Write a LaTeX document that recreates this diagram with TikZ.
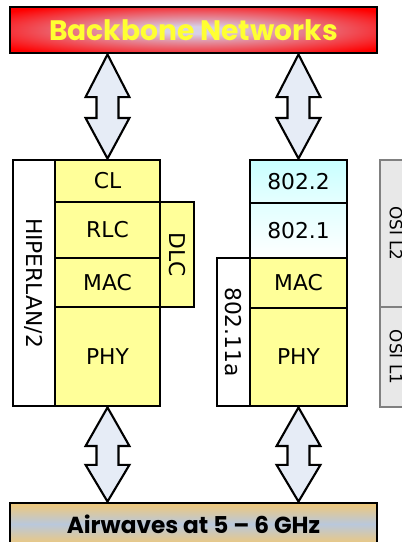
\documentclass[tikz,border=0pt]{standalone}
\usepackage{fontspec}
\usepackage{graphicx}
\setmainfont{DejaVu Sans}
\newfontfamily\barfont{Poppins}
\usetikzlibrary{calc}

\definecolor{layeryellow}{RGB}{255,255,153}
\definecolor{arrowblue}{RGB}{230,236,246}
\definecolor{osigray}{RGB}{232,232,232}
\definecolor{titleyellow}{RGB}{255,255,50}
\definecolor{glowlilac}{RGB}{214,208,232}
\pgfdeclareradialshading{redglow}{\pgfpoint{0bp}{0bp}}{%
  color(0bp)=(glowlilac); color(4bp)=(glowlilac); color(32bp)=(red); color(50bp)=(red)}

% vertical double arrow with notched shaft, from #1 down to #2
\newcommand{\duplex}[2]{%
  \draw[duplex] let \p1=(#1), \p2=(#2), \n1={\y1-\y2} in
    (\x2,\y1) -- (\x2+15.6pt,\y1-0.41*\n1) -- (\x2+7.8pt,\y1-0.41*\n1)
    -- (\x2+7.8pt,\y1-0.61*\n1) -- (\x2+15.6pt,\y1-0.61*\n1) -- (\x2,\y2)
    -- (\x2-15.6pt,\y1-0.61*\n1) -- (\x2-7.8pt,\y1-0.61*\n1)
    -- (\x2-7.8pt,\y1-0.41*\n1) -- (\x2-15.6pt,\y1-0.41*\n1) -- cycle;}

\begin{document}
\begin{tikzpicture}[x=0.025cm, y=-0.025cm,
  layer/.style={draw, line width=2pt, inner sep=0pt, font=\fontsize{15.5}{18}\selectfont},
  yellowlayer/.style={layer, fill=layeryellow},
  osilayer/.style={draw=gray, line width=1pt, fill=osigray, inner sep=0pt,
    minimum width=0.8cm, font=\fontsize{12}{14}\selectfont},
  duplex/.style={draw, line width=1.5pt, fill=arrowblue, line join=miter}]
\useasboundingbox (0,0) rectangle (402,542);

% bars
\node[draw, line width=2pt, shading=redglow,
  minimum width=9.175cm, minimum height=1.15cm, font=\barfont\bfseries\fontsize{20}{24}\selectfont,
  text=titleyellow] (backbone) at (193.5,30) {Backbone Networks};
\node[draw, line width=2pt, top color={rgb,255:red,240;green,200;blue,120},
  bottom color={rgb,255:red,240;green,200;blue,120}, middle color={rgb,255:red,185;green,200;blue,220},
  minimum width=9.175cm, minimum height=1.05cm, font=\barfont\bfseries\fontsize{16.5}{19}\selectfont]
  (air) at (193.5,524) {Airwaves at 5 – 6 GHz};

% HIPERLAN/2 stack
\node[layer, fill=white, minimum width=1.05cm, minimum height=6.15cm] (hiper) at (34,283) {\rotatebox{-90}{HIPERLAN/2}};
\node[yellowlayer, minimum width=2.625cm, minimum height=1.05cm] (cl) at (107.5,181) {CL};
\node[yellowlayer, minimum width=2.625cm, minimum height=1.4cm] (rlc) at (107.5,230) {RLC};
\node[yellowlayer, minimum width=2.625cm, minimum height=1.225cm] (maca) at (107.5,282.5) {MAC};
\node[yellowlayer, minimum width=2.625cm, minimum height=2.475cm] (phya) at (107.5,356.5) {PHY};
\node[yellowlayer, minimum width=0.85cm, minimum height=2.625cm] (dlc) at (177,254.5) {\rotatebox{-90}{DLC}};

% IEEE 802.11a stack
\node[layer, top color={rgb,255:red,200;green,255;blue,255}, bottom color={rgb,255:red,230;green,255;blue,255},
  minimum width=2.425cm, minimum height=1.075cm] (llc) at (298.5,181.5) {802.2};
\node[layer, top color={rgb,255:red,225;green,255;blue,255}, bottom color=white,
  minimum width=2.425cm, minimum height=1.375cm] (bridge) at (298.5,230.5) {802.1};
\node[layer, fill=white, minimum width=0.825cm, minimum height=3.7cm] (wlan) at (233.5,332) {\rotatebox{-90}{802.11a}};
\node[yellowlayer, minimum width=2.425cm, minimum height=1.25cm] (macb) at (298.5,283) {MAC};
\node[yellowlayer, minimum width=2.425cm, minimum height=2.45cm] (phyb) at (298.5,357) {PHY};

% OSI reference
\node[osilayer, minimum height=3.675cm] (ositwo) at (396,233.5) {\rotatebox{-90}{OSI L2}};
\node[osilayer, minimum height=2.5cm] (osione) at (396,357) {\rotatebox{-90}{OSI L1}};

% links
\duplex{backbone.south -| cl.north}{cl.north}
\duplex{backbone.south -| llc.north}{llc.north}
\duplex{phya.south}{air.north -| phya.south}
\duplex{phyb.south}{air.north -| phyb.south}
\end{tikzpicture}
\end{document}
